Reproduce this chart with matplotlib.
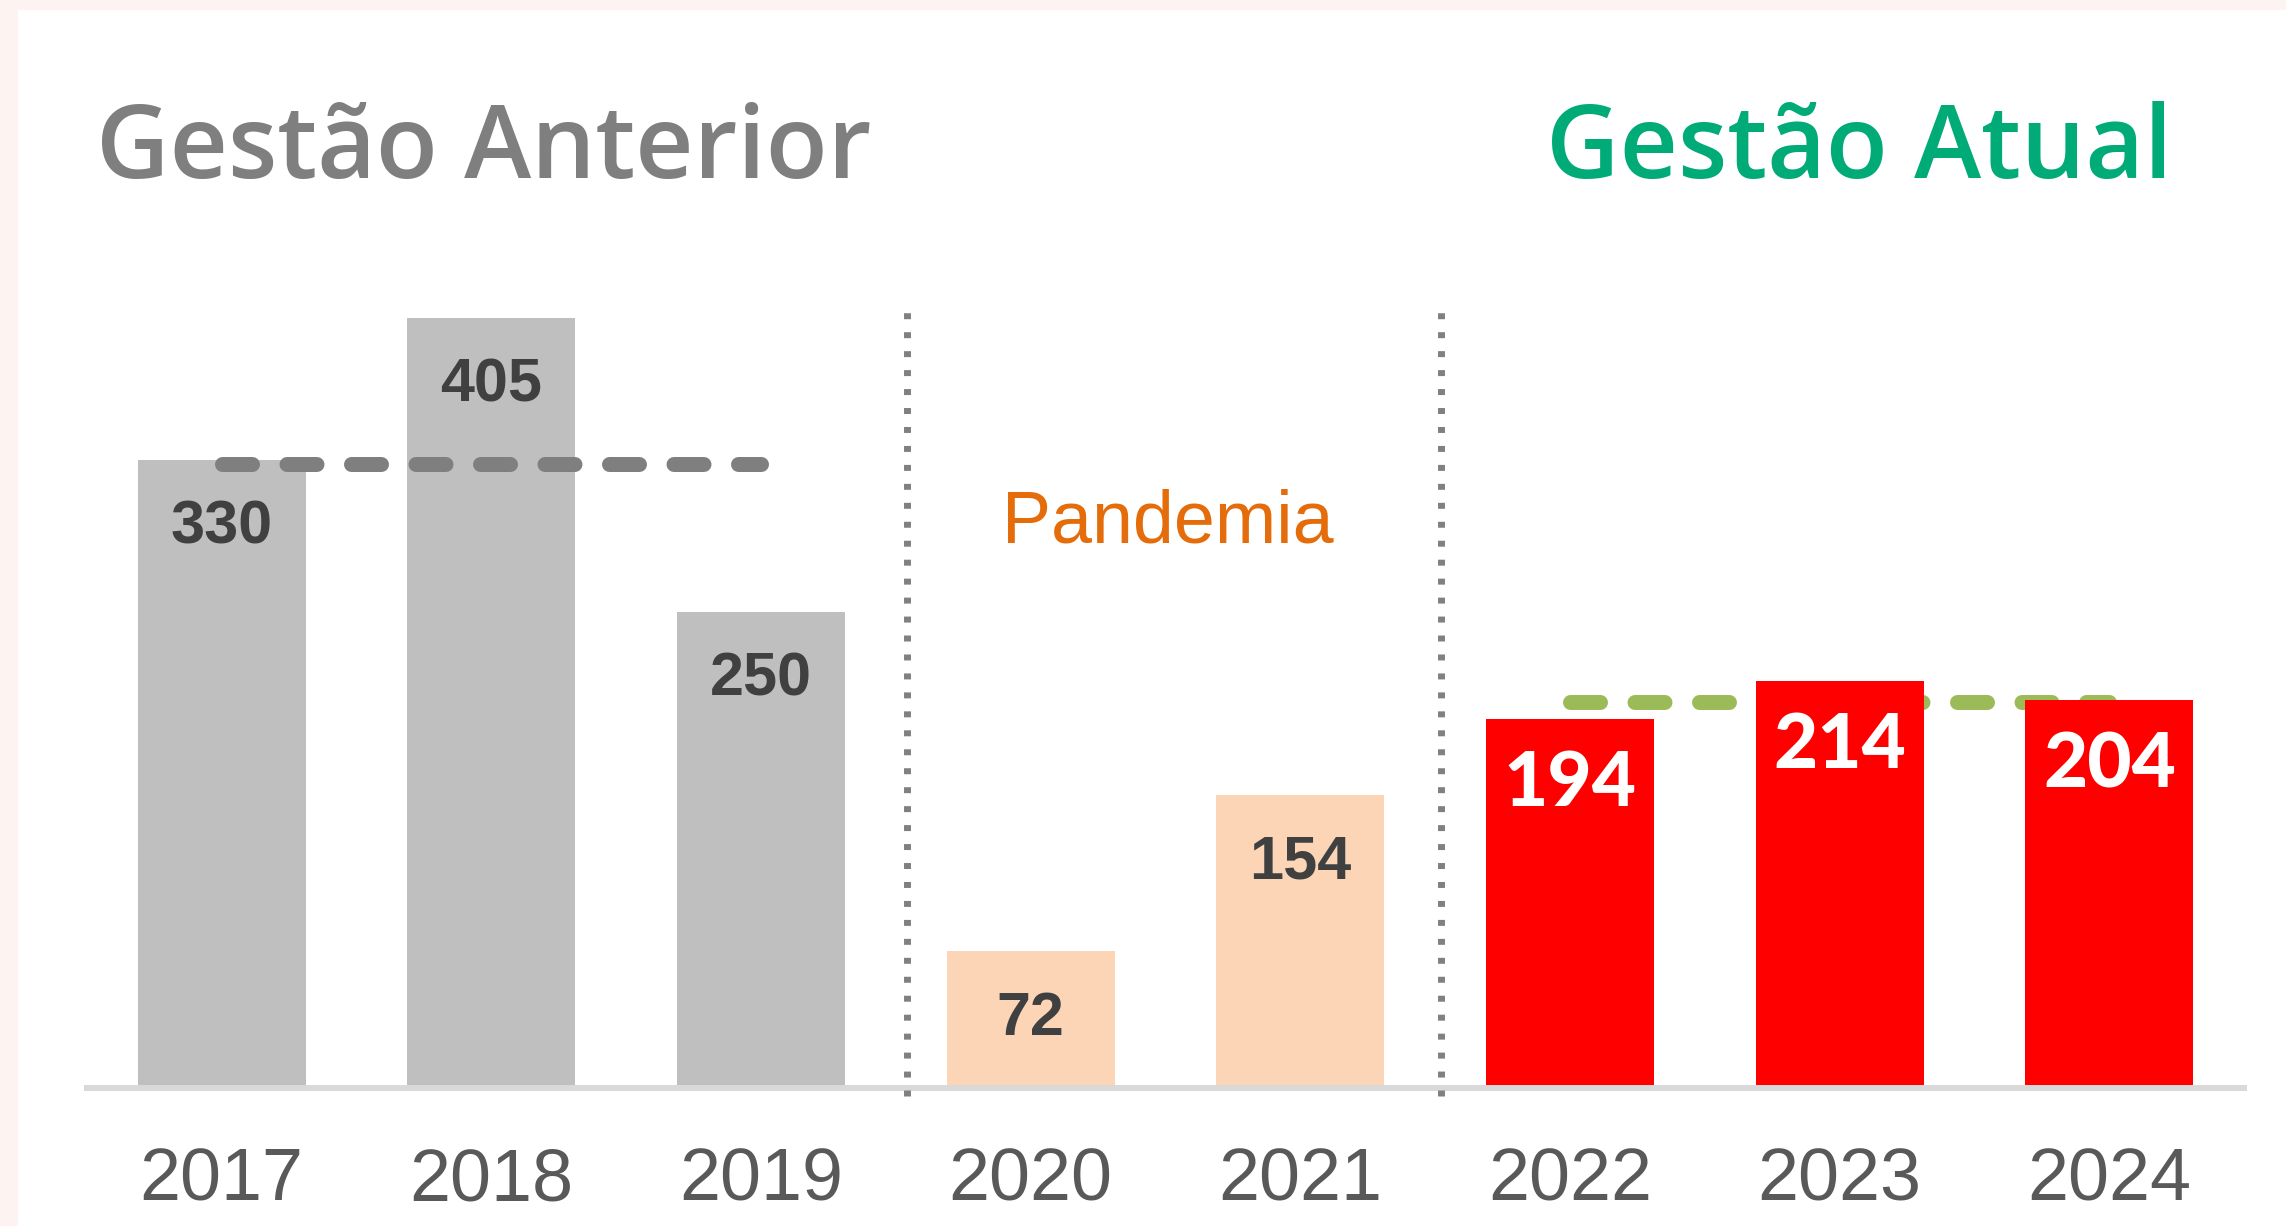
import matplotlib
matplotlib.use('Agg')
import matplotlib.pyplot as plt
from matplotlib.patches import Rectangle
import numpy as np

# dados
anos = ['2017', '2018', '2019', '2020', '2021', '2022', '2023', '2024']
valores = [330, 405, 250, 72, 154, 194, 214, 204]
cores = ['#bfbfbf', '#bfbfbf', '#bfbfbf', '#fbd5b5', '#fbd5b5', '#ff0000', '#ff0000', '#ff0000']
cor_rotulo = ['#404040'] * 5 + ['white'] * 3

media_anterior = 328   # 2017-2019
media_atual = 203      # 2022-2024
divisorias = [2.54, 4.52]

fig = plt.figure(figsize=(22.86, 12.26), dpi=100, facecolor='#fdf3f0')
fig.add_artist(Rectangle((18 / 2286, 0), 1, 1 - 10 / 1226, transform=fig.transFigure,
                         facecolor='white', edgecolor='none', zorder=0))

ax = fig.add_axes([0.038, 0.1126, 0.9437, 0.6827])
ax.set_facecolor('none')
x = np.arange(len(anos))

# linha media atual fica atras das barras
ax.plot([5, 7], [media_atual, media_atual], color='#9bbb59', lw=10.8,
        dashes=(2, 2.3), dash_capstyle='round', zorder=1)

barras = ax.bar(x, valores, width=0.623, color=cores, zorder=2)

# linha media anterior por cima
ax.plot([0, 2], [media_anterior, media_anterior], color='#7f7f7f', lw=10.8,
        dashes=(2, 2.3), dash_capstyle='round', zorder=3)

for d in divisorias:
    ax.plot([d, d], [-4, 408], color='#808080', lw=5, dashes=(0.86, 1.87),
            dash_capstyle='butt', zorder=3, clip_on=False)

for i, v in enumerate(valores):
    if i >= 5:
        ax.annotate(str(v), (x[i], v), xytext=(0, -47), textcoords='offset points',
                    ha='center', va='center', color='white', fontsize=55,
                    fontweight='black', family='Lato', zorder=4)
    else:
        ax.annotate(str(v), (x[i], v), xytext=(0, -49), textcoords='offset points',
                    ha='center', va='center', color=cor_rotulo[i], fontsize=44,
                    fontweight='bold', family='Liberation Sans', zorder=4)

ax.text(3.51, 297, 'Pandemia', ha='center', va='center', color='#e46c0a',
        fontsize=53, family='Liberation Sans')

ax.set_xlim(-0.5, 7.5)
ax.set_ylim(0, 440)
ax.set_yticks([])
ax.set_xticks(x, anos)
ax.tick_params(axis='x', length=0, pad=42, labelsize=53, labelcolor='#595959')
for lb in ax.get_xticklabels():
    lb.set_family('Liberation Sans')
for s in ['top', 'left', 'right']:
    ax.spines[s].set_visible(False)
ax.spines['bottom'].set_color('#d9d9d9')
ax.spines['bottom'].set_linewidth(4.3)
ax.spines['bottom'].set_zorder(2.5)

fig.text(96 / 2286, 1 - 178 / 1226, 'Gestão Anterior', ha='left', va='baseline',
         color='#7f7f7f', fontsize=73, family='Open Sans', fontweight='semibold')
fig.text(2172 / 2286, 1 - 178 / 1226, 'Gestão Atual', ha='right', va='baseline',
         color='#00ab78', fontsize=73, family='Open Sans', fontweight='semibold')

fig.savefig('out.png', dpi=100, facecolor=fig.get_facecolor())
